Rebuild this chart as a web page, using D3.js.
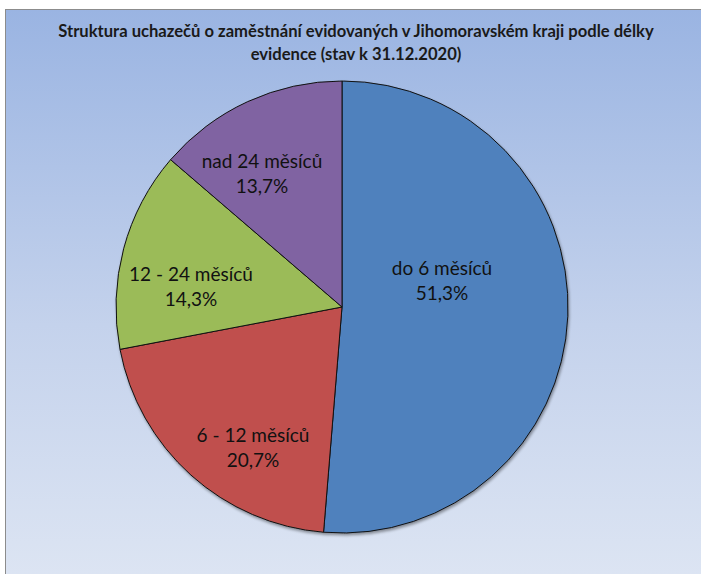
<!DOCTYPE html>
<html><head><meta charset="utf-8">
<script src="https://cdn.jsdelivr.net/npm/d3@7"></script>
<style>body{margin:0;background:#fff}svg{display:block}</style>
</head><body>
<script>
const categories = ["do 6 měsíců", "6 - 12 měsíců", "12 - 24 měsíců", "nad 24 měsíců"];
const values = [51.3, 20.7, 14.3, 13.7];
const labels = ["51,3%", "20,7%", "14,3%", "13,7%"];
const colors = ["#4f81bd", "#c0504d", "#9bbb59", "#8064a2"];
const titleLines = ["Struktura uchazečů o zaměstnání evidovaných v Jihomoravském kraji podle délky", "evidence (stav k 31.12.2020)"];

const W = 701, H = 574;
const FONT = "Lato, 'Open Sans', sans-serif";
const svg = d3.select("body").append("svg").attr("width", W).attr("height", H);
const defs = svg.append("defs");
const g = defs.append("linearGradient").attr("id","bg").attr("x1",0).attr("y1",0).attr("x2",0).attr("y2",1);
g.append("stop").attr("offset","0%").attr("stop-color","#9ab4e2");
g.append("stop").attr("offset","55%").attr("stop-color","#c4d2ec");
g.append("stop").attr("offset","100%").attr("stop-color","#dde5f3");
const f = defs.append("filter").attr("id","sh").attr("x","-10%").attr("y","-10%").attr("width","120%").attr("height","120%");
f.append("feGaussianBlur").attr("in","SourceAlpha").attr("stdDeviation",1.5).attr("result","b");
f.append("feOffset").attr("in","b").attr("dx",1).attr("dy",2).attr("result","o");
f.append("feComponentTransfer").attr("in","o").attr("result","o2").append("feFuncA").attr("type","linear").attr("slope",0.4);
const m = f.append("feMerge"); m.append("feMergeNode").attr("in","o2"); m.append("feMergeNode").attr("in","SourceGraphic");

svg.append("rect").attr("x",5.5).attr("y",9.5).attr("width",W).attr("height",H).attr("fill","url(#bg)").attr("stroke","#8c8c8c").attr("stroke-width",1);

const t = svg.append("text").attr("text-anchor","middle").attr("font-family",FONT).attr("font-weight","bold").attr("font-size",16.6).attr("fill","#1a1a1a");
titleLines.forEach((l,i)=> t.append("tspan").attr("x",356).attr("y",37+i*23).text(l));

const cx = 342, cy = 307, r = 226;
const pie = d3.pie().sort(null).value(d=>d)(values);
const arc = d3.arc().innerRadius(0).outerRadius(r);
const gp = svg.append("g").attr("transform",`translate(${cx},${cy})`);
const sg = gp.append("g").attr("filter","url(#sh)");
sg.selectAll("path").data(pie).join("path").attr("d",arc).attr("fill",(d,i)=>colors[i]).attr("stroke","#111").attr("stroke-width",1);

const labelPos = [[100,-32],[-89,135],[-151,-26],[-80,-139]];
const lg = gp.selectAll("g.l").data(pie).join("g").attr("transform",(d,i)=>`translate(${labelPos[i][0]},${labelPos[i][1]})`);
lg.append("text").attr("text-anchor","middle").attr("font-family",FONT).attr("font-size",19).attr("fill","#111").attr("y",0).text((d,i)=>categories[i]);
lg.append("text").attr("text-anchor","middle").attr("font-family",FONT).attr("font-size",19).attr("fill","#111").attr("y",25).text((d,i)=>labels[i]);
</script>
</body></html>
